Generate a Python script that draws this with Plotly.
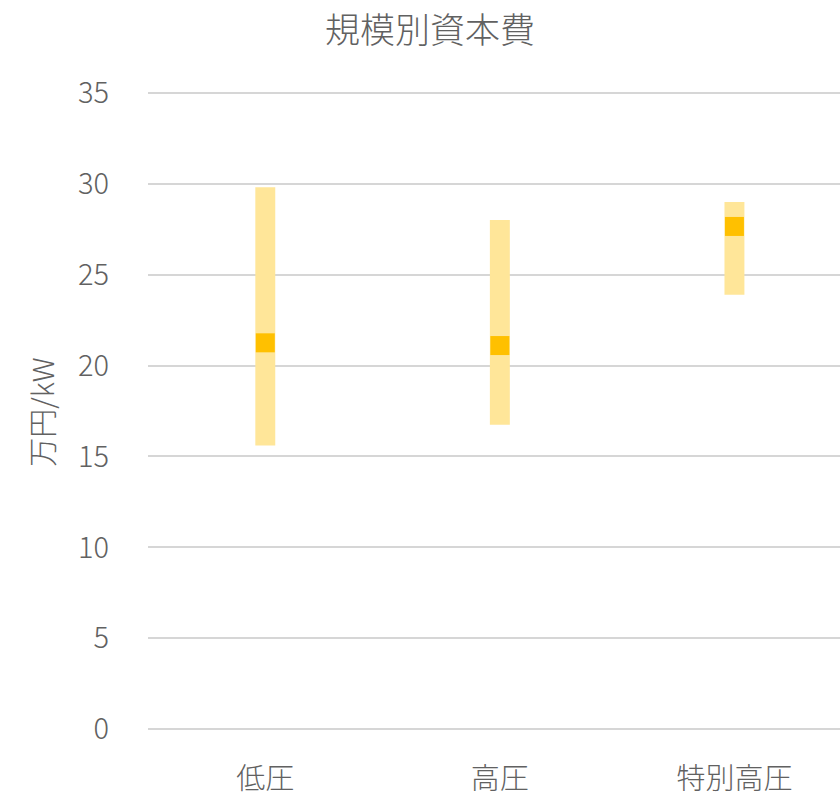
import plotly.graph_objects as go

# 規模別資本費 (万円/kW): range (min-max) and representative value per scale
categories = ["低圧", "高圧", "特別高圧"]
range_low = [15.6, 16.75, 23.9]
range_high = [29.8, 28.0, 29.0]
representative = [21.25, 21.1, 27.65]
y_ticks = [0, 5, 10, 15, 20, 25, 30, 35]

font_family = "Noto Sans CJK JP"
text_color = "#616161"

x_pos = list(range(len(categories)))

fig = go.Figure()

# floating bars spanning the min-max range
fig.add_trace(go.Bar(
    x=x_pos,
    y=[h - l for h, l in zip(range_high, range_low)],
    base=range_low,
    width=0.085,
    marker=dict(color="#FFE699", line=dict(width=0)),
    hoverinfo="skip",
    showlegend=False,
))

# representative value markers
fig.add_trace(go.Scatter(
    x=x_pos,
    y=representative,
    mode="markers",
    marker=dict(symbol="square", size=19, color="#FFC000", line=dict(width=0)),
    showlegend=False,
))

fig.update_layout(
    width=840,
    height=797,
    margin=dict(l=148, r=0, t=91, b=62),
    paper_bgcolor="white",
    plot_bgcolor="white",
    font=dict(family=font_family, color=text_color, size=29, weight=300),
    title=dict(
        text="規模別資本費",
        x=0.512, xanchor="center",
        y=1 - 31 / 797, yanchor="middle", yref="container",
        font=dict(size=35, color=text_color, family=font_family, weight=300),
    ),
    xaxis=dict(
        range=[-0.5, 2.45],
        tickmode="array",
        tickvals=x_pos,
        ticktext=categories,
        showgrid=False,
        zeroline=False,
        showline=False,
        ticks="",
        ticklabelstandoff=28,
        tickfont=dict(size=29, weight=300),
    ),
    yaxis=dict(
        range=[-0.1, 35.1],
        tickmode="array",
        tickvals=y_ticks,
        showgrid=True,
        gridcolor="#D6D6D6",
        gridwidth=2.2,
        zeroline=False,
        showline=False,
        ticks="",
        ticklabelstandoff=38,
        tickfont=dict(size=29, weight=300),
    ),
    annotations=[dict(
        text="万円/kW",
        xref="paper", yref="paper",
        x=(41 - 148) / 692, y=(735.3 - 415) / 644,
        xanchor="center", yanchor="middle",
        textangle=-90,
        showarrow=False,
        font=dict(size=29, color=text_color, family=font_family, weight=300),
    )],
)

fig.write_html("out.html")
